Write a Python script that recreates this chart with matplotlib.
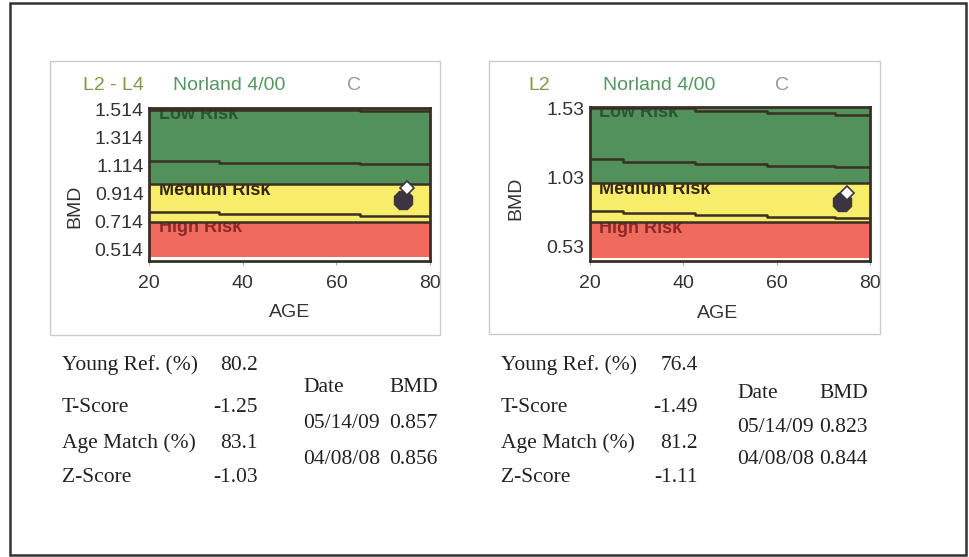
import matplotlib
matplotlib.use("Agg")
import matplotlib.pyplot as plt
from matplotlib.patches import Rectangle

W, H = 969, 557

# ---- left chart: L2 - L4 ----
left_title = ["L2 - L4", "Norland 4/00", "C"]
left_ticks = [0.514, 0.714, 0.914, 1.114, 1.314, 1.514]
left_ylim = (0.436, 1.521)
left_bands = [0.465, 0.714, 0.982]          # red bottom, red/yellow, yellow/green
left_step_ages = [20, 35, 65, 80]
left_top = [1.509, 1.509, 1.502]
left_mid = [1.148, 1.134, 1.123]
left_low = [0.785, 0.769, 0.757]
left_point_age = [74.3, 75.1]
left_point_bmd = [0.868, 0.952]

# ---- right chart: L2 ----
right_title = ["L2", "Norland 4/00", "C"]
right_ticks = [0.53, 1.03, 1.53]
right_ylim = (0.425, 1.541)
right_bands = [0.445, 0.705, 0.987]
right_step_ages = [20, 27, 42.5, 58, 72.5, 80]
right_top = [1.529, 1.529, 1.513, 1.498, 1.481]
right_mid = [1.160, 1.143, 1.126, 1.112, 1.102]
right_low = [0.786, 0.769, 0.757, 0.745, 0.733]
right_point_age = [73.9, 75.0]
right_point_bmd = [0.854, 0.914]

# ---- result tables ----
score_labels = ["Young Ref. (%)", "T-Score", "Age Match (%)", "Z-Score"]
left_scores = ["80.2", "-1.25", "83.1", "-1.03"]
right_scores = ["76.4", "-1.49", "81.2", "-1.11"]
scan_dates = ["05/14/09", "04/08/08"]
left_bmds = ["0.857", "0.856"]
right_bmds = ["0.823", "0.844"]

GREEN = "#52905c"
YELLOW = "#f7ed6b"
RED = "#ef6b5d"
DARK = "#3a2f24"

plt.rcParams['font.family'] = ['Liberation Sans', 'DejaVu Sans']


def fx(x):
    return x / W


def fy(y):
    return 1 - y / H


def draw_chart(ax, ticks, ylim, bands, step_ages, top, mid, low, p_age, p_bmd,
               ylabel_y, xlabel_x):
    ax.set_xlim(20, 80)
    ax.set_ylim(*ylim)
    off = 0.075
    risk = dict(fontsize=13, fontweight="bold", va="baseline", clip_on=True)

    # bands, each label drawn before the band above it so its top gets hidden
    ax.axhspan(bands[0], bands[1], color=RED, lw=0, zorder=1)
    ax.text(22, bands[1] - off, "High Risk", color="#8c2a2a", zorder=2, **risk)
    ax.axhspan(bands[1], bands[2], color=YELLOW, lw=0, zorder=3)
    ax.text(22, bands[2] - off, "Medium Risk", color="#35260f", zorder=4, **risk)
    ax.axhspan(bands[2], ylim[1], color=GREEN, lw=0, zorder=5)
    ax.text(22, ylim[1] - off, "Low Risk", color="#2c5534", zorder=6, **risk)

    for yb in bands[1:]:
        ax.axhline(yb, color=DARK, lw=1.8, zorder=7)
    for vals in (top, mid, low):
        ax.step(step_ages, vals + [vals[-1]], where="post", color=DARK,
                lw=1.8, zorder=7)

    # measurements
    ax.plot(p_age[0], p_bmd[0], marker="8", ms=14, color="#3d3441",
            ls="none", zorder=8)
    ax.plot(p_age[1], p_bmd[1], marker="D", ms=7, mfc="white", mec="#3d3441",
            mew=1.2, ls="none", zorder=9)

    ax.set_yticks(ticks)
    ax.set_yticklabels([f"{t:g}" if len(f"{t:g}") > 3 else f"{t:.2f}" for t in ticks])
    ax.set_xticks([20, 40, 60, 80])
    ax.tick_params(axis="y", length=0, pad=4, labelsize=14, labelcolor="#333333")
    ax.tick_params(axis="x", length=3, width=0.8, color="#aaaaaa", pad=7,
                   labelsize=14, labelcolor="#333333")
    for sp in ax.spines.values():
        sp.set_color(DARK)
        sp.set_linewidth(2)
        sp.set_zorder(10)

    ax.set_xlabel("AGE", fontsize=14, color="#333333")
    ax.set_ylabel("BMD", fontsize=14, color="#333333")
    ax.xaxis.set_label_coords(xlabel_x, -0.287)
    ax.yaxis.set_label_coords(-0.236, ylabel_y)


def draw_title(fig, texts, xs, y):
    colors = ["#7f9a45", "#55975f", "#999999"]
    for t, x, c in zip(texts, xs, colors):
        fig.text(fx(x), fy(y), t, color=c, fontsize=14, va="center")


def draw_table(fig, scores, bmds, x_lab, x_val, x_date, x_bmd, y_head, y_dates):
    serif = dict(family="Liberation Serif", fontsize=15.5, color="#222222",
                 va="center")
    for lab, val, y in zip(score_labels, scores, [365, 407, 443, 478]):
        fig.text(fx(x_lab), fy(y), lab, **serif)
        fig.text(fx(x_val), fy(y), val, ha="right", **serif)
    fig.text(fx(x_date), fy(y_head), "Date", **serif)
    fig.text(fx(x_bmd), fy(y_head), "BMD", ha="right", **serif)
    for d, b, y in zip(scan_dates, bmds, y_dates):
        fig.text(fx(x_date), fy(y), d, **serif)
        fig.text(fx(x_bmd), fy(y), b, ha="right", **serif)


fig = plt.figure(figsize=(W / 100, H / 100), dpi=100)

# outer frame and the two light panels
fig.add_artist(Rectangle((fx(10), fy(555)), fx(956), 552 / H, fill=False,
                         ec="#333333", lw=1.8, transform=fig.transFigure))
fig.add_artist(Rectangle((fx(50), fy(335)), fx(390), 274 / H, fill=False,
                         ec="#cccccc", lw=1, transform=fig.transFigure))
fig.add_artist(Rectangle((fx(489), fy(334)), fx(391), 273 / H, fill=False,
                         ec="#cccccc", lw=1, transform=fig.transFigure))

ax1 = fig.add_axes([fx(149.3), fy(260.7), fx(280.7), 152.4 / H])
draw_chart(ax1, left_ticks, left_ylim, left_bands, left_step_ages,
           left_top, left_mid, left_low, left_point_age, left_point_bmd,
           0.355, 0.5)

ax2 = fig.add_axes([fx(590), fy(261), fx(280), 154.3 / H])
draw_chart(ax2, right_ticks, right_ylim, right_bands, right_step_ages,
           right_top, right_mid, right_low, right_point_age, right_point_bmd,
           0.405, 0.457)

draw_title(fig, left_title, [83, 173, 347], 85)
draw_title(fig, right_title, [528, 603, 775], 85)

draw_table(fig, left_scores, left_bmds, 62, 258, 303, 438, 388, [424, 460])
draw_table(fig, right_scores, right_bmds, 501, 698, 737, 868, 393, [427, 460])

fig.savefig("out.png", dpi=100)
